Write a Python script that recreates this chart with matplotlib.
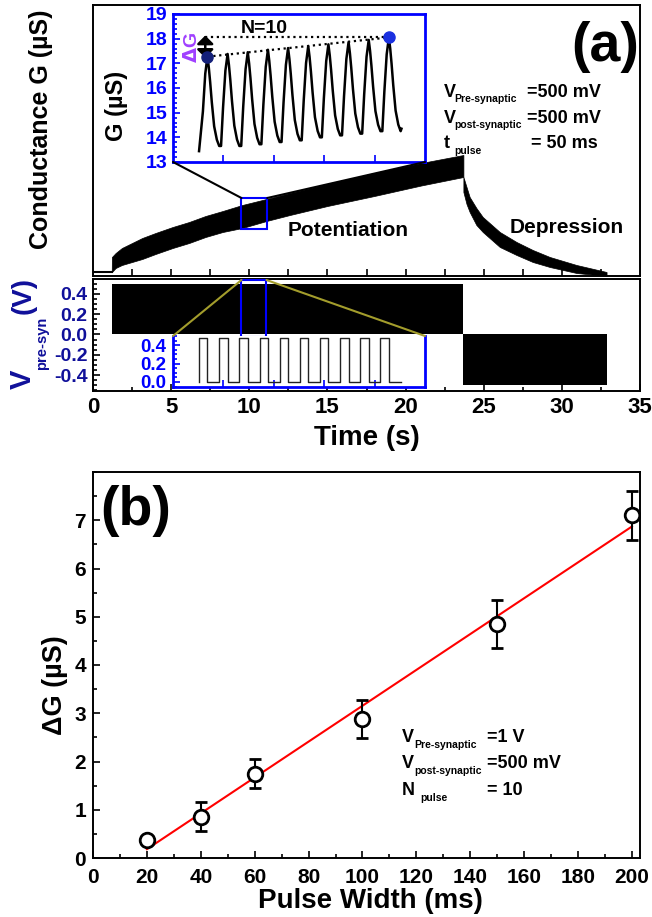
import numpy as np
import matplotlib
matplotlib.use("Agg")
import matplotlib.pyplot as plt
from matplotlib.patches import Rectangle, ConnectionPatch
from matplotlib.ticker import MultipleLocator

plt.rcParams['font.family'] = ['Liberation Sans', 'DejaVu Sans']
plt.rcParams['font.weight'] = 'bold'

W, H = 652, 917

# ---- (a) conductance envelope (arbitrary units)
base_t = [0.0, 1.2]
base_g = [0.4, 0.4]
pot_t = [1.2, 1.21, 1.45, 1.85, 2.5, 3.15, 4.0, 5.1, 6.15, 7.2, 8.3, 9.55,
         11.1, 12.6, 15.0, 18.0, 21.0, 23.7]
pot_hi = [0.4, 1.9, 2.3, 2.8, 3.3, 3.8, 4.3, 4.9, 5.4, 6.0, 6.5, 7.1,
          7.7, 8.3, 9.2, 10.3, 11.3, 12.1]
pot_lo = [0.4, 0.4, 0.8, 1.1, 1.4, 1.7, 2.2, 2.8, 3.3, 3.9, 4.4, 4.8,
          5.5, 6.1, 7.0, 8.0, 9.05, 9.9]
dep_t = [23.7, 23.9, 24.1, 24.53, 24.94, 26.03, 27.1, 28.14, 29.23, 30.94, 32.86]
dep_hi = [9.9, 8.9, 7.9, 6.8, 5.9, 4.4, 3.4, 2.6, 1.9, 1.1, 0.4]
dep_lo = [8.4, 7.2, 6.4, 5.1, 4.4, 2.9, 2.1, 1.4, 0.9, 0.3, 0.0]

# pulse trains (dense, drawn as blocks)
pot_span = [1.22, 23.7]
pot_amp = 0.5
dep_span = [23.7, 32.86]
dep_amp = -0.5
v_ticks = [-0.4, -0.2, 0.0, 0.2, 0.4]
v_labels = ['-0.4', '-0.2', '0.0', '0.2', '0.4']

# ---- zoomed window (ms)
peak_t = [205, 325, 445, 565, 685, 805, 925, 1045, 1165, 1285]
peak_g = [17.27, 17.38, 17.45, 17.55, 17.62, 17.70, 17.77, 17.86, 17.95, 18.05]
trough_g = [13.44, 13.65, 13.65, 13.72, 13.81, 13.88, 14.00, 14.08, 14.15, 14.25]
end_t, end_g = 1360, 14.35
rise_dt = [-39, -27, -13, 0]
rise_frac = [0.0, 0.42, 0.82, 1.0]
fall_dt = [8, 16, 26, 40, 56, 70]
fall_frac = [0.12, 0.28, 0.51, 0.78, 0.93, 1.0]
pulse_w = 50
pulse_hi = 0.48

# ---- (b)
pw = [20, 40, 60, 100, 150, 200]
dg = [0.38, 0.86, 1.745, 2.88, 4.85, 7.10]
dg_err = [0.05, 0.30, 0.30, 0.40, 0.50, 0.50]


def fx(px):
    return px / W


def fy(py):
    return 1 - py / H


def box(l, t, r, b):
    return [fx(l), fy(b), (r - l) / W, (b - t) / H]


fig = plt.figure(figsize=(W / 100, H / 100), dpi=100)
blue = '#0000ff'
navy = '#10109a'

# conductance panel
ax_g = fig.add_axes(box(93, 5, 640, 276))
ax_g.plot(base_t, base_g, color='black', lw=1.5)
ax_g.fill_between(pot_t, pot_lo, pot_hi, color='black', lw=0.5)
ax_g.fill_between(dep_t, dep_lo, dep_hi, color='black', lw=0.5)
ax_g.set_xlim(0, 35)
ax_g.set_ylim(0, 27.1)
ax_g.set_xticks(np.arange(2.5, 35, 2.5))
ax_g.set_yticks([])
ax_g.tick_params(axis='x', direction='in', length=5, width=1.2, labelbottom=False)
ax_g.add_patch(Rectangle((9.5, 4.7), 1.65, 3.1, fill=False, ec=blue, lw=1.5, zorder=5))

# voltage panel
ax_v = fig.add_axes(box(93, 279, 640, 391))
ax_v.fill_between(pot_span, 0, pot_amp, color='black', lw=0)
ax_v.fill_between(dep_span, dep_amp, 0, color='black', lw=0)
ax_v.set_xlim(0, 35)
ax_v.set_ylim(-0.555, 0.545)
ax_v.xaxis.set_major_locator(MultipleLocator(5))
ax_v.xaxis.set_minor_locator(MultipleLocator(2.5))
ax_v.set_yticks(v_ticks, v_labels)
ax_v.yaxis.set_minor_locator(MultipleLocator(0.05))
ax_v.tick_params(which='both', direction='in', width=1.2)
ax_v.tick_params(which='major', length=5)
ax_v.tick_params(which='minor', length=3)
ax_v.tick_params(axis='x', labelsize=16, pad=4)
ax_v.tick_params(axis='y', labelsize=14, pad=4, labelcolor=navy)
ax_v.add_patch(Rectangle((9.5, -0.025), 1.6, 0.56, fill=False, ec=blue, lw=1.5, zorder=5))

for a in (ax_g, ax_v):
    for s in a.spines.values():
        s.set_linewidth(1.4)

# conductance inset
tr_t, tr_g = [peak_t[0] - 50], [trough_g[0]]
for k in range(len(peak_t)):
    lo, hi = trough_g[k], peak_g[k]
    for dt, f in zip(rise_dt[1:], rise_frac[1:]):
        tr_t.append(peak_t[k] + dt)
        tr_g.append(lo + f * (hi - lo))
    nxt = trough_g[k + 1] if k + 1 < len(trough_g) else trough_g[-1]
    for dt, f in zip(fall_dt, fall_frac):
        if peak_t[k] + dt >= end_t:
            break
        tr_t.append(peak_t[k] + dt)
        tr_g.append(hi - f * (hi - nxt))
    if k + 1 < len(peak_t):
        tr_t.append(peak_t[k + 1] + rise_dt[0])
        tr_g.append(nxt)
tr_t.append(end_t)
tr_g.append(end_g)

ins_g = fig.add_axes(box(173, 14, 425, 162))
ins_g.plot(tr_t, tr_g, color='black', lw=1.8)
arrow_x = 192
ins_g.plot([peak_t[0], peak_t[-1]], [peak_g[0], peak_g[-1]], ls=':', color='black', lw=1.6)
ins_g.plot([arrow_x, peak_t[-1]], [peak_g[-1], peak_g[-1]], ls=':', color='black', lw=1.6)
ins_g.annotate('', xy=(arrow_x, peak_g[-1] + 0.08), xytext=(arrow_x, peak_g[0] - 0.05),
               arrowprops=dict(arrowstyle='<|-|>,head_length=0.45,head_width=0.45',
                               color='black', lw=1.8, mutation_scale=11,
                               shrinkA=0, shrinkB=0))
ins_g.plot([peak_t[0]], [peak_g[0]], 'o', color='#14207a', ms=8, zorder=5)
ins_g.plot([peak_t[-1]], [peak_g[-1]], 'o', color='#1a30e0', ms=8, zorder=5)
ins_g.text(112, 17.66, r'$\Delta$G', rotation=90, color='#a040ff', fontsize=14,
           ha='center', va='center')
ins_g.text(542, 18.23, 'N=10', ha='center', va='baseline', fontsize=14)
ins_g.set_xlim(0, 1500)
ins_g.set_ylim(13, 19)
ins_g.set_xticks([300, 600, 900, 1200])
ins_g.yaxis.set_major_locator(MultipleLocator(1))
ins_g.yaxis.set_minor_locator(MultipleLocator(0.2))
ins_g.tick_params(which='both', direction='in', color=blue, width=1.2, labelbottom=False)
ins_g.tick_params(which='major', length=5)
ins_g.tick_params(which='minor', length=3)
ins_g.tick_params(axis='y', labelsize=14, labelcolor=blue, pad=4)
for s in ins_g.spines.values():
    s.set_color(blue)
    s.set_linewidth(2)

# voltage inset
vt, vv = [], []
for p in peak_t:
    vt += [p - pulse_w, p - pulse_w, p, p]
    vv += [0, pulse_hi, pulse_hi, 0]
vt.append(end_t)
vv.append(0)
ins_v = fig.add_axes(box(173, 336, 425, 387))
ins_v.plot(vt, vv, color='#222222', lw=1.0)
ins_v.set_xlim(0, 1500)
ins_v.set_ylim(-0.055, 0.5)
ins_v.set_xticks([300, 600, 900, 1200])
ins_v.set_yticks([0.0, 0.2, 0.4], ['0.0', '0.2', '0.4'])
ins_v.yaxis.set_minor_locator(MultipleLocator(0.05))
ins_v.tick_params(which='both', direction='in', color=blue, width=1.2, labelbottom=False)
ins_v.tick_params(which='major', length=5)
ins_v.tick_params(which='minor', length=3)
ins_v.tick_params(axis='y', labelsize=13.5, labelcolor=blue, pad=5)
ins_v.spines['top'].set_visible(False)
for s in ('left', 'bottom', 'right'):
    ins_v.spines[s].set_color(blue)
    ins_v.spines[s].set_linewidth(2)

# zoom connectors
for xa, xb in ((0, 9.5), (1, 11.15)):
    fig.add_artist(ConnectionPatch(xyA=(xa, 0), coordsA=ins_g.transAxes,
                                   xyB=(xb, 7.8), coordsB=ax_g.transData,
                                   color='black', lw=1.5))
for xa, xb in ((0, 9.5), (1, 11.1)):
    fig.add_artist(ConnectionPatch(xyA=(xa, 1), coordsA=ins_v.transAxes,
                                   xyB=(xb, 0.535), coordsB=ax_v.transData,
                                   color='#a39d2c', lw=1.5))

# (a) texts
fig.text(fx(41), fy(129), 'Conductance G (\u00b5S)', rotation=90, ha='center', va='center', fontsize=18)
fig.text(fx(117), fy(106), 'G (\u00b5S)', rotation=90, ha='center', va='center', fontsize=17)
fig.text(fx(23), fy(379), 'V', rotation=90, ha='center', va='center', fontsize=21, color=navy)
fig.text(fx(42.5), fy(343.5), 'pre-syn', rotation=90, ha='center', va='center', fontsize=10.5, color=navy)
fig.text(fx(24), fy(296), '(V)', rotation=90, ha='center', va='center', fontsize=20, color=navy)
fig.text(fx(367), fy(445), 'Time (s)', ha='center', va='baseline', fontsize=20)
fig.text(fx(605), fy(61), '(a)', ha='center', va='baseline', fontsize=40)
fig.text(fx(348), fy(236), 'Potentiation', ha='center', va='baseline', fontsize=15)
fig.text(fx(567), fy(233), 'Depression', ha='center', va='baseline', fontsize=15)


def cond_line(x0, xs, xv, yb, ys, main, sub, val, size=13, subsize=7.5):
    fig.text(fx(x0), fy(yb), main, ha='left', va='baseline', fontsize=size)
    fig.text(fx(xs), fy(ys), sub, ha='left', va='baseline', fontsize=subsize)
    fig.text(fx(xv), fy(yb), val, ha='left', va='baseline', fontsize=size)


cond_line(444, 454, 527, 97, 102, 'V', 'Pre-synaptic', '=500 mV')
cond_line(444, 454, 527, 123, 128, 'V', 'post-synaptic', '=500 mV')
cond_line(444, 454, 531, 148, 154, 't', 'pulse', '= 50 ms')

# (b)
ax_b = fig.add_axes(box(93, 472, 640, 858))
fit = np.polyfit(pw, dg, 1)
xs = np.array([pw[0], pw[-1]])
ax_b.plot(xs, np.polyval(fit, xs), color='#ff0000', lw=1.5, zorder=2)
ax_b.errorbar(pw, dg, yerr=dg_err, fmt='o', mfc='white', mec='black', mew=2, ms=10.5,
              ecolor='black', elinewidth=1.5, capsize=4, capthick=1.5, zorder=3)
ax_b.set_xlim(0, 203)
ax_b.set_ylim(0, 8)
ax_b.xaxis.set_major_locator(MultipleLocator(20))
ax_b.xaxis.set_minor_locator(MultipleLocator(10))
ax_b.set_yticks(range(0, 8))
ax_b.yaxis.set_minor_locator(MultipleLocator(0.5))
ax_b.tick_params(which='both', direction='in', width=1.2, labelsize=15)
ax_b.tick_params(which='major', length=5)
ax_b.tick_params(which='minor', length=3)
ax_b.tick_params(axis='x', pad=7)
ax_b.tick_params(axis='y', pad=5)
for s in ax_b.spines.values():
    s.set_linewidth(1.4)

fig.text(fx(370), fy(908), 'Pulse Width (ms)', ha='center', va='baseline', fontsize=20)
fig.text(fx(55), fy(685), '\u0394G (\u00b5S)', rotation=90, ha='center', va='center', fontsize=19.5)
fig.text(fx(136), fy(525), '(b)', ha='center', va='baseline', fontsize=40)
cond_line(402, 414, 487, 742, 748, 'V', 'Pre-synaptic', '=1 V')
cond_line(402, 414, 487, 768, 774, 'V', 'post-synaptic', '=500 mV')
cond_line(402, 420, 487, 795, 801, 'N', 'pulse', '= 10')

fig.savefig('out.png', dpi=100)
